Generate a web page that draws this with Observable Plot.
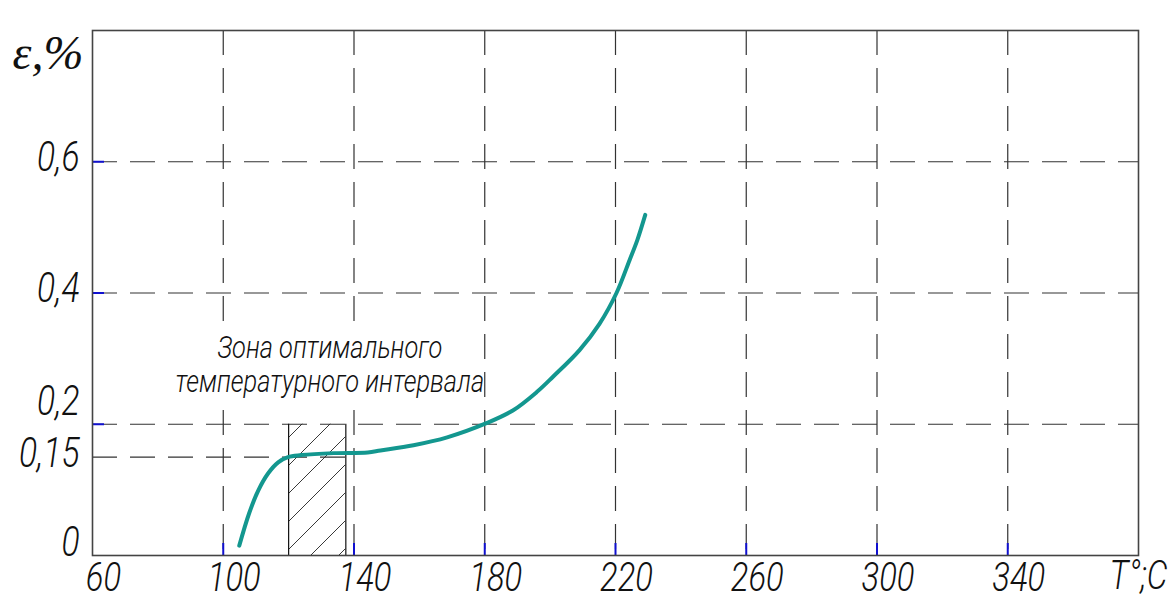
<!DOCTYPE html>
<html><head><meta charset="utf-8">
<script src="https://cdn.jsdelivr.net/npm/d3@7"></script>
<script src="https://cdn.jsdelivr.net/npm/@observablehq/plot@0.6"></script>
<style>
html,body{margin:0;padding:0;background:#fff;}
#chart svg{display:block;}
</style></head><body><div id="chart"></div>
<script>
// --- data ---
const temperature = [104.9,107.9,110.7,113.7,116.8,119.8,123.8,133.8,144.2,148.1,158.2,168.5,180.7,188.6,195.9,200.8,209.0,215.1,220.3,224.3,226.7,229.1];
const strain      = [0.015,0.064,0.099,0.125,0.142,0.150,0.153,0.156,0.157,0.160,0.168,0.180,0.202,0.221,0.249,0.272,0.313,0.353,0.400,0.450,0.481,0.519];
const xTicks = [60,100,140,180,220,260,300,340];
const xGrid = [100,140,180,220,260,300,340];
const yTickValues = [0,0.15,0.2,0.4,0.6];
const yTickLabels = ["0","0,15","0,2","0,4","0,6"];
const yGrid = [0.2,0.4,0.6];
const refLevel = [0.15];
const refLevelEnd = 140;
const zone = [120,137.5];
const zoneTop = 0.2;
const xDomain = [60,380];
const yDomain = [0,0.8];
const xLabel = "T°;C";
const yLabel = "ε,%";
const zoneLabel = "Зона оптимального\nтемпературного интервала";
const zoneLabelAt = {t:132.6, e:0.292};

const curveData = temperature.map((t,i)=>({t, e:strain[i]}));
const font = 'Roboto,"Liberation Sans",sans-serif';
const gridStyle = {stroke:"#333", strokeWidth:1.2, strokeDasharray:"25,13"};
const tickFont = {fontFamily:font, fontStyle:"italic", fontWeight:300, fontSize:42, fill:"#111"};
const xTickFont = {...tickFont, fontSize:40};

const svg = Plot.plot({
  width:1172, height:601,
  marginLeft:92, marginRight:34, marginTop:30, marginBottom:46,
  x:{domain:xDomain, axis:null},
  y:{domain:yDomain, axis:null},
  style:{background:"#fff", overflow:"visible"},
  marks:[
    Plot.ruleX(xGrid,{x:d=>d, y1:yDomain[1], y2:0, ...gridStyle}),
    Plot.ruleY(yGrid,{y:d=>d, x1:xDomain[0], x2:xDomain[1], ...gridStyle}),
    Plot.ruleY(refLevel,{y:d=>d, x1:xDomain[0], x2:refLevelEnd, ...gridStyle}),
    // white mask behind the zone annotation (grid is interrupted there)
    Plot.rect([zoneLabelAt],{x1:"t", x2:"t", y1:"e", y2:"e", insetLeft:-124, insetRight:-140, insetTop:-38, insetBottom:-38, fill:"#fff"}),
    Plot.rect([zone],{x1:d=>d[0], x2:d=>d[1], y1:0, y2:zoneTop, fill:"url(#hatch)"}),
    Plot.ruleX(zone,{x:d=>d, y1:0, y2:zoneTop, stroke:"#111", strokeWidth:1.2}),
    Plot.line(curveData,{x:"t", y:"e", stroke:"#13978f", strokeWidth:4, curve:"catmull-rom"}),
    Plot.ruleX(xGrid,{x:d=>d, y1:0, y2:0, insetTop:-12, stroke:"#1010d0", strokeWidth:2}),
    Plot.ruleY(yGrid,{y:d=>d, x1:xDomain[0], x2:xDomain[0], insetRight:-12, stroke:"#1010d0", strokeWidth:2}),
    Plot.frame({stroke:"#444", strokeWidth:1.6}),
    // y tick labels
    Plot.text(yTickValues,{filter:d=>d!==0 && d!==0.2, x:xDomain[0], y:d=>d, text:(d,i)=>yTickLabels[i], textAnchor:"end", dx:-13, dy:-4, ...tickFont}),
    Plot.text(yTickValues,{filter:d=>d===0.2, x:xDomain[0], y:d=>d, text:(d,i)=>yTickLabels[i], textAnchor:"end", dx:-13, dy:-23, ...tickFont}),
    Plot.text(yTickValues,{filter:d=>d===0, x:xDomain[0], y:d=>d, text:(d,i)=>yTickLabels[i], textAnchor:"end", dx:-13, dy:-13, ...tickFont}),
    // x tick labels
    Plot.text(xTicks,{x:d=>d, y:0, text:d=>String(d), dx:11, dy:23, ...xTickFont}),
    Plot.text([xLabel],{x:xDomain[1], y:0, text:d=>d, dy:21, ...xTickFont}),
    // y axis title
    Plot.text([yLabel],{frameAnchor:"top-left", text:d=>d, textAnchor:"start", dx:-80, dy:4, fontFamily:'"Liberation Serif","DejaVu Serif",serif', fontStyle:"italic", fontSize:48, fill:"#111"}),
    // zone annotation
    Plot.text([zoneLabel],{x:zoneLabelAt.t, y:zoneLabelAt.e, text:d=>d, lineHeight:1.1, fontFamily:font, fontStyle:"italic", fontWeight:300, fontSize:31, fill:"#111"})
  ]
});

// condense the sans-serif texts horizontally (the reference uses a narrow drafting font)
function condense(sel, s) {
  svg.querySelectorAll(sel).forEach(t => {
    const tr = t.getAttribute("transform");
    if (tr) t.setAttribute("transform", tr + ` scale(${s},1)`);
    else {
      const x = +(t.getAttribute("x")||0), y = +(t.getAttribute("y")||0);
      t.removeAttribute("x"); t.removeAttribute("y");
      t.setAttribute("transform", `translate(${x},${y}) scale(${s},1)`);
    }
  });
}
condense('g[font-size="42"] text', 0.8);
condense('g[font-size="40"] text', 0.82);
condense('g[font-size="31"] text', 0.82);

const ns = "http://www.w3.org/2000/svg";
const defs = document.createElementNS(ns,"defs");
defs.innerHTML = '<pattern id="hatch" patternUnits="userSpaceOnUse" x="26" y="0" width="28" height="28">'
  + '<path d="M-7,7 L7,-7 M0,28 L28,0 M21,35 L35,21" stroke="#222" stroke-width="0.9" fill="none"/></pattern>';
svg.insertBefore(defs, svg.firstChild);
document.getElementById("chart").appendChild(svg);
</script>
</body></html>
